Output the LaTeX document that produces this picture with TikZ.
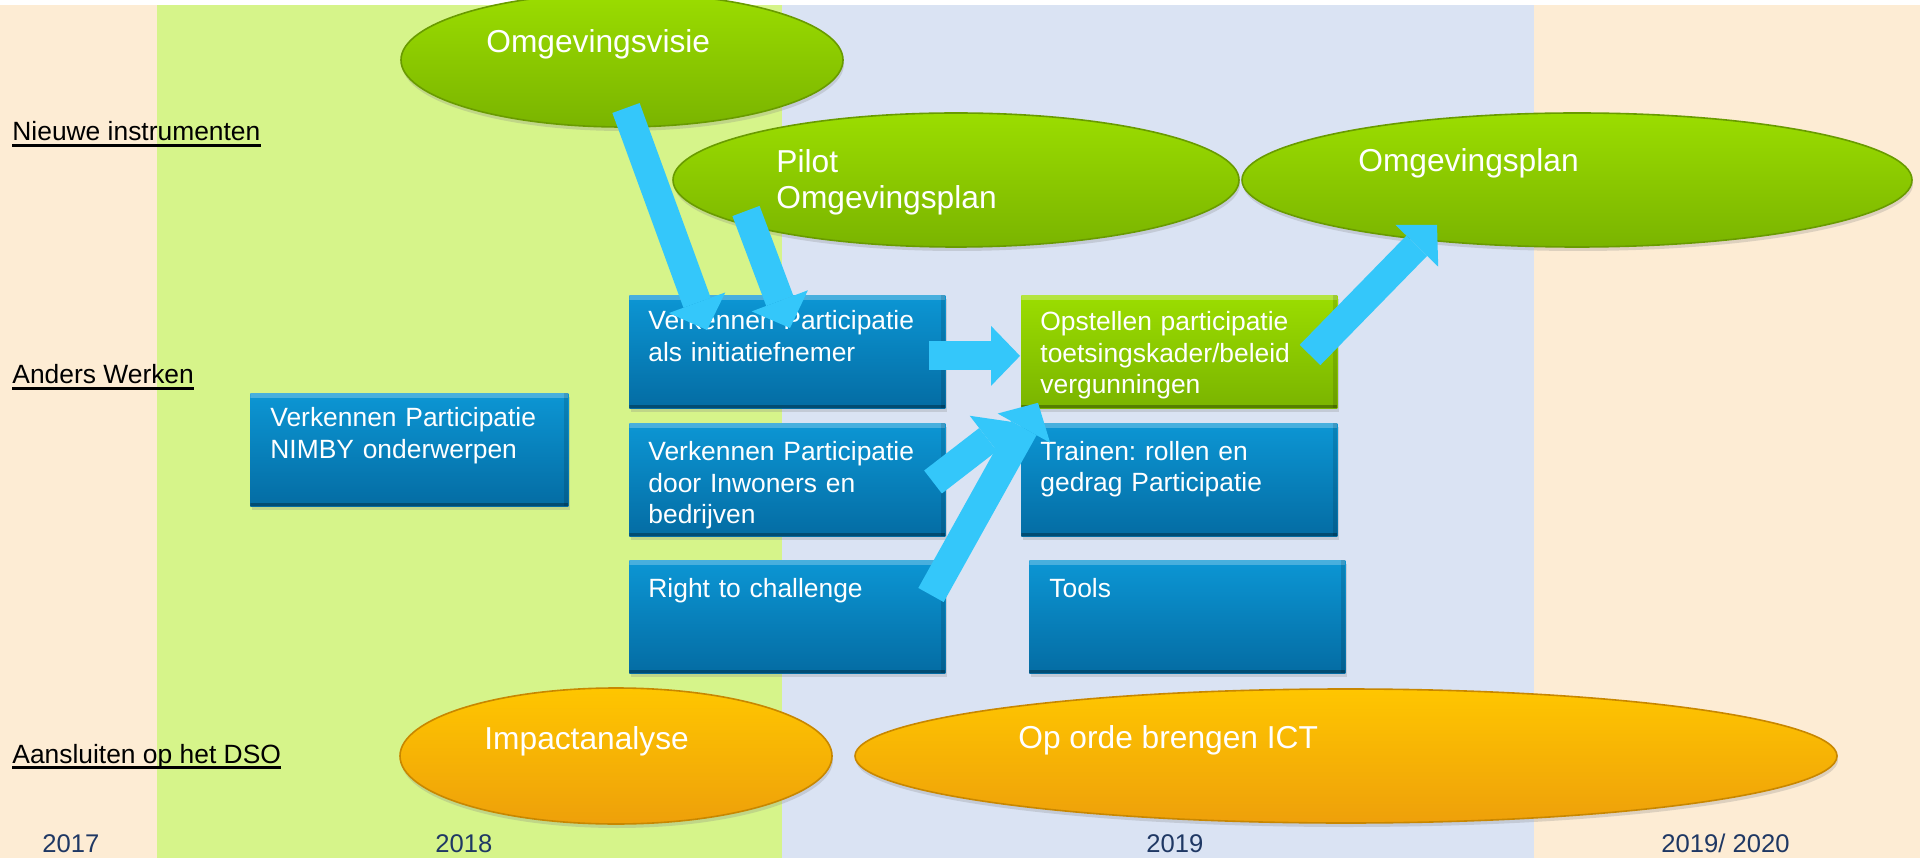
\documentclass[tikz,border=0pt]{standalone}
\usepackage{fontspec}
\setmainfont{Liberation Sans}
\usetikzlibrary{arrows.meta,calc,shapes.geometric,shadows}

\definecolor{peach}{RGB}{253,236,212}
\definecolor{lgreen}{RGB}{214,244,138}
\definecolor{lblue}{RGB}{218,227,243}
\definecolor{arrowc}{RGB}{52,199,250}
\definecolor{navy}{RGB}{31,56,100}
\definecolor{btop}{RGB}{12,150,212}
\definecolor{bbot}{RGB}{4,108,163}
\definecolor{gtop}{RGB}{155,221,0}
\definecolor{gbot}{RGB}{122,180,0}
\definecolor{gedge}{RGB}{105,155,0}
\definecolor{otop}{RGB}{255,198,0}
\definecolor{obot}{RGB}{238,160,10}
\definecolor{oedge}{RGB}{200,135,0}

\begin{document}
\frenchspacing
\begin{tikzpicture}[x=0.5pt,y=-0.5pt,
  lbl/.style={anchor=base west, inner sep=0pt, text=black, font=\fontsize{13.2pt}{15.75pt}\selectfont},
  yr/.style={anchor=base west, inner sep=0pt, text=navy, font=\fontsize{12.8pt}{15pt}\selectfont},
  greenell/.style={ellipse, inner sep=0pt, top color=gtop, bottom color=gbot, draw=gedge, line width=0.8pt,
    drop shadow={opacity=0.25, shadow xshift=0.5pt, shadow yshift=-2pt}},
  orangeell/.style={ellipse, inner sep=0pt, top color=otop, bottom color=obot, draw=oedge, line width=0.8pt,
    drop shadow={opacity=0.25, shadow xshift=0.5pt, shadow yshift=-2pt}},
  boxbase/.style={rectangle, inner sep=0pt, anchor=north west, minimum width=158pt, minimum height=56.5pt,
    drop shadow={opacity=0.25, shadow xshift=0.8pt, shadow yshift=-2pt},
    path picture={
      \fill[white, opacity=0.25] (path picture bounding box.north west) rectangle ([yshift=-2.5pt]path picture bounding box.north east);
      \fill[black, opacity=0.3] (path picture bounding box.south west) rectangle ([yshift=1.5pt]path picture bounding box.south east);
      \fill[black, opacity=0.12] (path picture bounding box.north east) rectangle ([xshift=-2pt]path picture bounding box.south east);
    }},
  bluebox/.style={boxbase, top color=btop, bottom color=bbot},
  greenbox/.style={boxbase, top color=gtop, bottom color=gbot},
  boxtext/.style={anchor=base west, inner sep=0pt, text=white, text width=150pt, align=left,
    font=\fontsize{13.2pt}{15.75pt}\selectfont},
  elltext/.style={anchor=base west, inner sep=0pt, text=white, font=\fontsize{15.85pt}{18pt}\selectfont},
  blockarrow/.style={draw=arrowc, line width=14.5pt,
    -{Triangle[length=14.5pt, width=30pt, line width=0pt, fill=arrowc]}}
]
\useasboundingbox (0,0) rectangle (1920,860);
\clip (0,0) rectangle (1920,860);

% background bands
\fill[white] (0,0) rectangle (1920,860);
\fill[peach] (0,5) rectangle (157,858);
\fill[lgreen] (157,5) rectangle (782,858);
\fill[lblue] (782,5) rectangle (1534,858);
\fill[peach] (1534,5) rectangle (1920,858);

% row labels
\node[lbl] (l1) at (12,141) {Nieuwe instrumenten};
\node[lbl] (l2) at (12,384) {Anders Werken};
\node[lbl] (l3) at (12,763) {Aansluiten op het DSO};
\foreach \n in {l1,l2,l3}
  \draw[line width=1.2pt] ([yshift=-2.3pt]\n.base west) -- ([yshift=-2.3pt]\n.base east);

% years
\node[yr] (y17) at (42,852) {2017};
\node[yr] (y18) at (435,852) {2018};
\node[yr] (y19) at (1146,852) {2019};
\node[yr] (y20) at (1661,852) {2019/ 2020};

% ellipses
\node[greenell, minimum width=221pt, minimum height=67pt] (visie) at (622,60) {};
\node[greenell, minimum width=283pt, minimum height=67pt] (pilot) at (956,180) {};
\node[greenell, minimum width=335pt, minimum height=67pt] (plan) at (1577,180) {};
\node[orangeell, minimum width=216pt, minimum height=68pt] (impact) at (616,756) {};
\node[orangeell, minimum width=491pt, minimum height=67pt] (ict) at (1346,756) {};

\node[elltext] (tvisie) at (486,53) {Omgevingsvisie};
\node[elltext, text width=130pt, align=left] (tpilot) at (776,173) {Pilot\\Omgevingsplan};
\node[elltext] (tplan) at (1358,172) {Omgevingsplan};
\node[elltext] (timpact) at (484,749) {Impactanalyse};
\node[elltext] (tict) at (1018,748) {Op orde brengen ICT};

% boxes
\node[bluebox, minimum width=159pt] (b7) at (250,393) {};
\node[bluebox] (b6) at (629,295) {};
\node[bluebox] (b8) at (629,423) {};
\node[bluebox] (b9) at (629,560) {};
\node[greenbox] (b10) at (1021,295) {};
\node[bluebox] (b11) at (1021,423) {};
\node[bluebox] (b12) at (1029,560) {};

\node[boxtext] (t7) at (270,427) {Verkennen Participatie\\NIMBY onderwerpen};
\node[boxtext] (t6) at (648,330) {Verkennen Participatie\\als initiatiefnemer};
\node[boxtext] (t8) at (648,461) {Verkennen Participatie\\door Inwoners en\\bedrijven};
\node[boxtext] (t9) at (648,597) {Right to challenge};
\node[boxtext] (t10) at (1040,331) {Opstellen participatie\\toetsingskader/beleid\\vergunningen};
\node[boxtext] (t11) at (1040,460) {Trainen: rollen en\\gedrag Participatie};
\node[boxtext] (t12) at (1049,597) {Tools};

% arrows
\draw[blockarrow] ($(visie.center)+(4,48)$) -- ($(b6.north west)+(78,35)$);
\draw[blockarrow] ($(pilot.center)+(-210,31)$) -- ($(b6.north west)+(161,33)$);
\draw[blockarrow] ($(b6.east)+(-17,4)$) -- ($(b10.west)+(-1,4)$);
\draw[blockarrow] ($(b10.north west)+(289,60)$) -- ($(plan.center)+(-140,45)$);
\draw[blockarrow] ($(b8.north west)+(304,59)$) -- ($(b10.south west)+(-10,13)$);
\draw[blockarrow] ($(b9.north west)+(302,35)$) -- ($(b10.south west)+(17,-6)$);
\end{tikzpicture}
\end{document}
